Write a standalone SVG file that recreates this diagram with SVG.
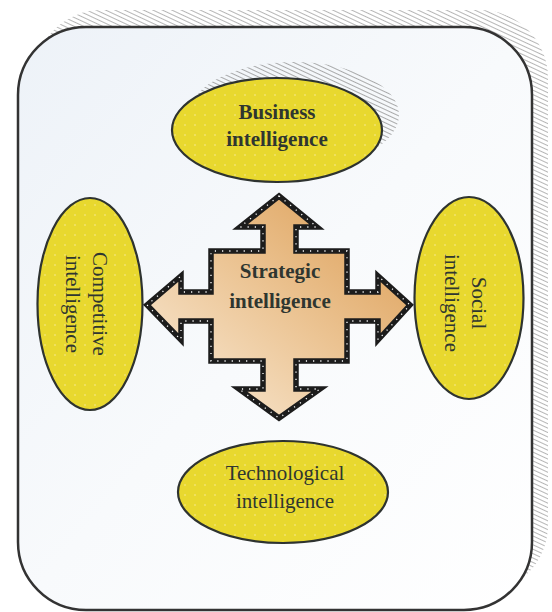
<svg xmlns="http://www.w3.org/2000/svg" width="552" height="612" viewBox="0 0 552 612">
  <defs>
    <pattern id="hatch" width="4" height="4" patternUnits="userSpaceOnUse" patternTransform="rotate(25)">
      <line x1="0" y1="0.5" x2="4" y2="0.5" stroke="#8a8a8a" stroke-width="0.9"/>
    </pattern>
    <pattern id="dots" width="10" height="10" patternUnits="userSpaceOnUse">
      <rect width="10" height="10" fill="#e8d82e"/>
      <circle cx="5" cy="5" r="0.8" fill="#f6ec9a"/>
    </pattern>
    <linearGradient id="bg" x1="0" y1="0" x2="1" y2="1">
      <stop offset="0" stop-color="#edf2f8"/>
      <stop offset="0.5" stop-color="#f8fafc"/>
      <stop offset="1" stop-color="#ffffff"/>
    </linearGradient>
    <linearGradient id="cross" x1="0.15" y1="0.85" x2="0.85" y2="0.15">
      <stop offset="0" stop-color="#f6e2c8"/>
      <stop offset="0.5" stop-color="#ecc595"/>
      <stop offset="1" stop-color="#e0a764"/>
    </linearGradient>
  </defs>
  <style>
    .ell { fill: url(#dots); stroke: #2e3330; stroke-width: 2.2; }
    .lbl { font-family: "Liberation Serif", "Times New Roman", serif; font-size: 21px; fill: #2f3630; text-anchor: middle; }
    .bold { font-weight: bold; }
  </style>

  <!-- outer frame with hatched shadow -->
  <rect x="34" y="10" width="514" height="583" rx="68" fill="url(#hatch)" opacity="0.7"/>
  <rect x="18" y="27" width="514" height="583" rx="68" fill="url(#bg)" stroke="#333" stroke-width="2.5"/>

  <g id="connectors"></g>

  <g id="node-business">
    <ellipse cx="294" cy="115" rx="105" ry="53" fill="url(#hatch)" opacity="0.8"/>
    <ellipse cx="277" cy="130" rx="105" ry="52" class="ell"/>
    <text class="lbl bold" x="277" y="119">Business</text>
    <text class="lbl bold" x="277" y="146">intelligence</text>
  </g>

  <g id="node-competitive">
    <ellipse cx="90" cy="304" rx="52.5" ry="106" class="ell"/>
    <g transform="rotate(90 90 304)">
      <text class="lbl" x="90" y="301">Competitive</text>
      <text class="lbl" x="90" y="328">intelligence</text>
    </g>
  </g>

  <g id="node-social">
    <ellipse cx="469" cy="298" rx="54.5" ry="101" class="ell"/>
    <g transform="rotate(90 469 303)">
      <text class="lbl" x="469" y="300">Social</text>
      <text class="lbl" x="469" y="327">intelligence</text>
    </g>
  </g>

  <g id="node-technological">
    <ellipse cx="283" cy="492" rx="105" ry="51" class="ell"/>
    <text class="lbl" x="285" y="480">Technological</text>
    <text class="lbl" x="285" y="508">intelligence</text>
  </g>

  <g id="node-strategic">
    <polygon points="279,196 317,227 296,227 296,251 347,251 347,292 378,292 378,276 410,305 378,340 378,321 347,321 347,361 296,361 296,389 320,389 279,418 239,389 263,389 263,361 211,361 211,321 181,321 181,340 147,305 181,276 181,292 211,292 211,251 263,251 263,227 240,227" fill="url(#cross)" stroke="#1c1c1c" stroke-width="5.5" stroke-linejoin="miter"/>
    <polygon points="279,196 317,227 296,227 296,251 347,251 347,292 378,292 378,276 410,305 378,340 378,321 347,321 347,361 296,361 296,389 320,389 279,418 239,389 263,389 263,361 211,361 211,321 181,321 181,340 147,305 181,276 181,292 211,292 211,251 263,251 263,227 240,227" fill="none" stroke="#ffffff" stroke-width="1.3" stroke-dasharray="1.2 6"/>
    <text class="lbl bold" x="280" y="278">Strategic</text>
    <text class="lbl bold" x="280" y="308">intelligence</text>
  </g>
</svg>
